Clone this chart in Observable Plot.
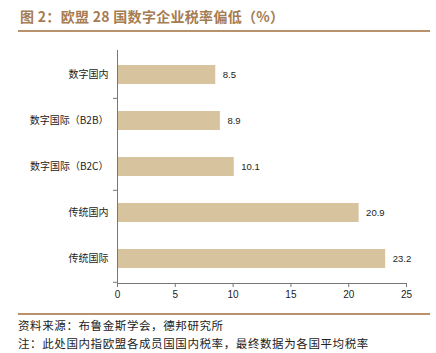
<!DOCTYPE html>
<html>
<head>
<meta charset="utf-8">
<script src="https://cdn.jsdelivr.net/npm/d3@7"></script>
<script src="https://cdn.jsdelivr.net/npm/@observablehq/plot@0.6"></script>
<style>
  html, body { margin: 0; padding: 0; background: #fff; }
  #wrap { position: relative; width: 436px; height: 353px; font-family: "Noto Sans CJK SC", sans-serif; }
  #title { position: absolute; left: 20px; top: 6px; font-size: 14px; font-weight: bold; color: #a67c52; white-space: nowrap; letter-spacing: 0.3px; }
  #tline { position: absolute; left: 18px; top: 30px; width: 412px; height: 0; border-top: 2px solid #b8926a; }
  #chart { position: absolute; left: 0; top: 36px; }
  #bline { position: absolute; left: 18px; top: 313px; width: 412px; height: 0; border-top: 2px solid #b8926a; }
  .cap { position: absolute; left: 18px; font-size: 11.5px; color: #222; white-space: nowrap; letter-spacing: 0.6px; }
</style>
</head>
<body>
<div id="wrap">
  <div id="title">图 2：欧盟 28 国数字企业税率偏低（%）</div>
  <div id="tline"></div>
  <div id="chart"></div>
  <div id="bline"></div>
  <div class="cap" style="top:317px">资料来源：布鲁金斯学会，德邦研究所</div>
  <div class="cap" style="top:335px">注：此处国内指欧盟各成员国国内税率，最终数据为各国平均税率</div>
</div>
<script>
const categories = ["数字国内", "数字国际（B2B）", "数字国际（B2C）", "传统国内", "传统国际"];
const values = [8.5, 8.9, 10.1, 20.9, 23.2];
const xTicks = [0, 5, 10, 15, 20, 25];
const yMinorTickCats = ["数字国内", "数字国际（B2C）", "传统国际"];

const data = categories.map((c, i) => ({cat: c, value: values[i]}));

const plotHeight = 277, mTop = 14, mBottom = 30;
const pInner = 0.58, pOuter = 0.29;
const step = (plotHeight - mTop - mBottom) / (categories.length - pInner + 2 * pOuter);

const chart = Plot.plot({
  width: 436,
  height: plotHeight,
  marginLeft: 117,
  marginRight: 30,
  marginTop: mTop,
  marginBottom: mBottom,
  style: {fontFamily: "'Noto Sans CJK SC', sans-serif", color: "#333", background: "transparent"},
  x: {domain: [0, 25]},
  y: {domain: categories, paddingInner: pInner, paddingOuter: pOuter},
  marks: [
    Plot.barX(data, {x: "value", y: "cat", fill: "#d7c39e"}),
    Plot.text(data, {x: "value", y: "cat", text: d => d.value.toFixed(1), textAnchor: "start", dx: 7,
      fontSize: 9.5, fontFamily: "'Liberation Sans', Arial, sans-serif", fill: "#222"}),
    Plot.axisX({ticks: xTicks, tickSize: 4, tickPadding: 3, fontSize: 10, stroke: "#777",
      fontFamily: "'Liberation Sans', Arial, sans-serif", fill: "#222", label: null}),
    Plot.axisY({tickSize: 0, tickPadding: 9, fontSize: 10, fill: "#222", label: null}),
    Plot.ruleY(yMinorTickCats, {y: d => d, x1: -0.35, x2: 0, dy: step / 2, stroke: "#777"}),
    Plot.ruleX([0], {stroke: "#777"}),
    Plot.frame({anchor: "bottom", stroke: "#777"})
  ]
});
document.getElementById("chart").appendChild(chart);
</script>
</body>
</html>
